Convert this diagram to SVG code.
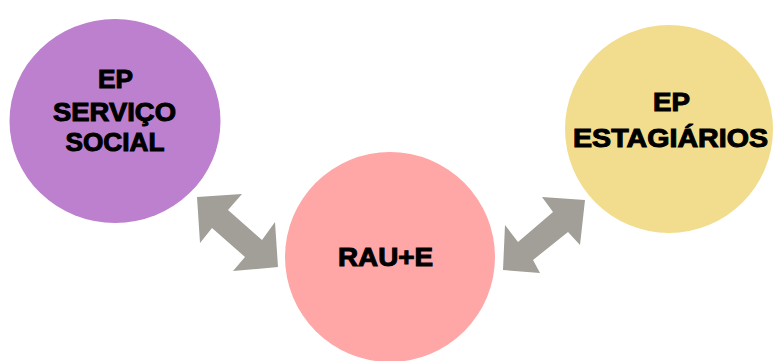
<svg xmlns="http://www.w3.org/2000/svg" width="773" height="361" viewBox="0 0 773 361">
<style>
.lbl{font-family:"Liberation Sans",Arial,sans-serif;font-weight:bold;font-size:25px;fill:#000;stroke:#000;stroke-width:1;text-anchor:middle}
.arr{fill:#A19F97}
</style>
<rect width="773" height="361" fill="#fff"/>
<g id="connectors">
<polygon class="arr" points="197,197 242,194 228,210 262,240 275,222 278,267 233,271 245,257 212,228 200,243"/>
<polygon class="arr" points="503,270 505,225 518,242 553,212 542,197 585,200 580,245 568,232 533,260 540,273"/>
</g>
<g id="ep-servico-social">
<ellipse cx="115" cy="121" rx="105.5" ry="102" fill="#BD80CE"/>
<text class="lbl" x="115.5" y="88" textLength="35" lengthAdjust="spacingAndGlyphs">EP</text>
<text class="lbl" x="114.5" y="121" textLength="123" lengthAdjust="spacingAndGlyphs">SERVIÇO</text>
<text class="lbl" x="115" y="151" textLength="99" lengthAdjust="spacingAndGlyphs">SOCIAL</text>
</g>
<g id="rau-e">
<circle cx="390" cy="257" r="105" fill="#FFA6A6"/>
<text class="lbl" x="385.5" y="266" textLength="95" lengthAdjust="spacingAndGlyphs">RAU+E</text>
</g>
<g id="ep-estagiarios">
<circle cx="669" cy="129" r="104" fill="#F2DD8E"/>
<text class="lbl" x="671.5" y="111" textLength="37" lengthAdjust="spacingAndGlyphs">EP</text>
<text class="lbl" x="670.5" y="147" textLength="195" lengthAdjust="spacingAndGlyphs">ESTAGIÁRIOS</text>
</g>
</svg>
